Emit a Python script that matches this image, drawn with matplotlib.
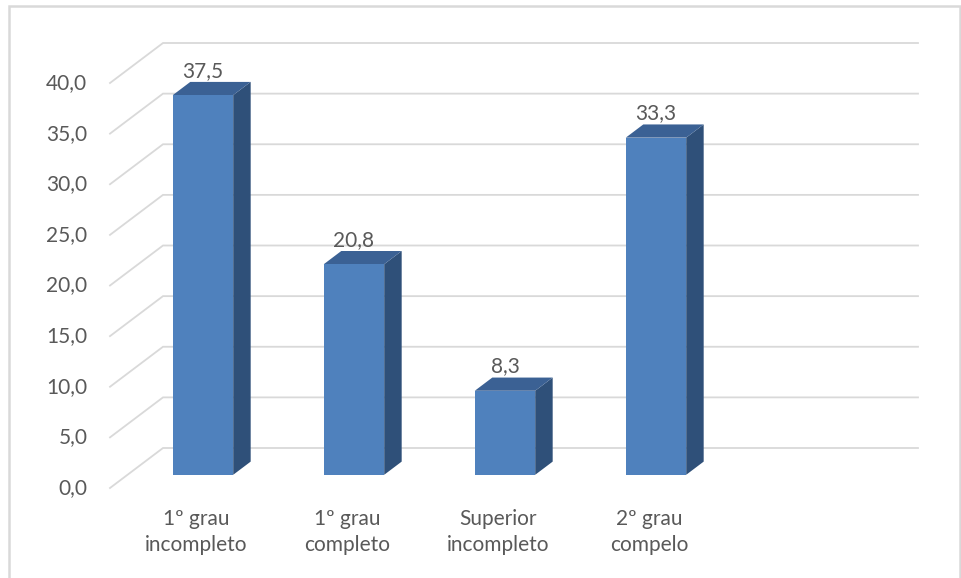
import matplotlib
matplotlib.use("Agg")
import matplotlib.pyplot as plt
from matplotlib.patches import Polygon, Rectangle

categories = ["1º grau\nincompleto", "1º grau\ncompleto", "Superior\nincompleto", "2º grau\ncompelo"]
values = [37.5, 20.8, 8.3, 33.3]
value_labels = ["37,5", "20,8", "8,3", "33,3"]
yticks = [0, 5, 10, 15, 20, 25, 30, 35, 40]
ytick_labels = ["0,0", "5,0", "10,0", "15,0", "20,0", "25,0", "30,0", "35,0", "40,0"]
n_slots = 5

# oblique projection parameters (data units)
KX = 0.351   # x shift per unit depth (in category slots)
KY = 3.95    # y shift per unit depth (in value units)
Z0, Z1 = 0.33, 0.66   # bar depth range
BW = 0.40             # bar width in slots


def proj(x, v, z):
    return (x + KX * z, v + KY * z)


plt.rcParams['font.family'] = ['Lato', 'DejaVu Sans']
fig = plt.figure(figsize=(9.62, 5.78), dpi=100)
ax = fig.add_axes([0, 0, 1, 1])
ax.set_xlim(-110 / 151, (962 - 110) / 151)
ax.set_ylim((488 - 578) / 10.125, 488 / 10.125)
ax.axis('off')

grid_c = '#D9D9D9'
text_c = '#595959'

# outer frame
fig.add_artist(Rectangle((9 / 962, -0.01), (960 - 9) / 962, (578 - 6) / 578 + 0.01,
                         transform=fig.transFigure, fill=False,
                         edgecolor=grid_c, linewidth=1.8))

# gridlines: left-wall diagonals and back wall horizontals
for t, lab in zip(yticks, ytick_labels):
    x0, y0 = proj(0, t, 0)
    x1, y1 = proj(0, t, 1)
    x2, y2 = proj(n_slots, t, 1)
    ax.plot([x0, x1, x2], [y0, y1, y2], color=grid_c, lw=1.3, zorder=1,
            solid_joinstyle='miter')
    ax.text(x0 - 0.15, y0, lab, ha='right', va='center', fontsize=15, color=text_c)

front_c = '#4F81BD'
side_c = '#2F5079'
top_c = '#3B6194'

for i, (v, vl, cat) in enumerate(zip(values, value_labels, categories)):
    xl = i + 0.5 - BW / 2
    xr = i + 0.5 + BW / 2
    side = [proj(xr, 0, Z0), proj(xr, 0, Z1), proj(xr, v, Z1), proj(xr, v, Z0)]
    top = [proj(xl, v, Z0), proj(xr, v, Z0), proj(xr, v, Z1), proj(xl, v, Z1)]
    front = [proj(xl, 0, Z0), proj(xr, 0, Z0), proj(xr, v, Z0), proj(xl, v, Z0)]
    ax.add_patch(Polygon(side, closed=True, facecolor=side_c, edgecolor='none', zorder=3))
    ax.add_patch(Polygon(top, closed=True, facecolor=top_c, edgecolor='none', zorder=3))
    ax.add_patch(Polygon(front, closed=True, facecolor=front_c, edgecolor='none', zorder=4))
    lx, _ = proj(i + 0.5, v, Z0)
    _, ly = proj(i + 0.5, v, Z1)
    ax.text(lx, ly + 0.1, vl, ha='center', va='bottom', fontsize=15, color=text_c, zorder=5)
    cx, cy = proj(i + 0.5, 0, 0.2)
    ax.text(cx, cy - 2.9, cat, ha='center', va='top', fontsize=15, color=text_c,
            linespacing=1.35)

fig.savefig('out.png', dpi=100)
